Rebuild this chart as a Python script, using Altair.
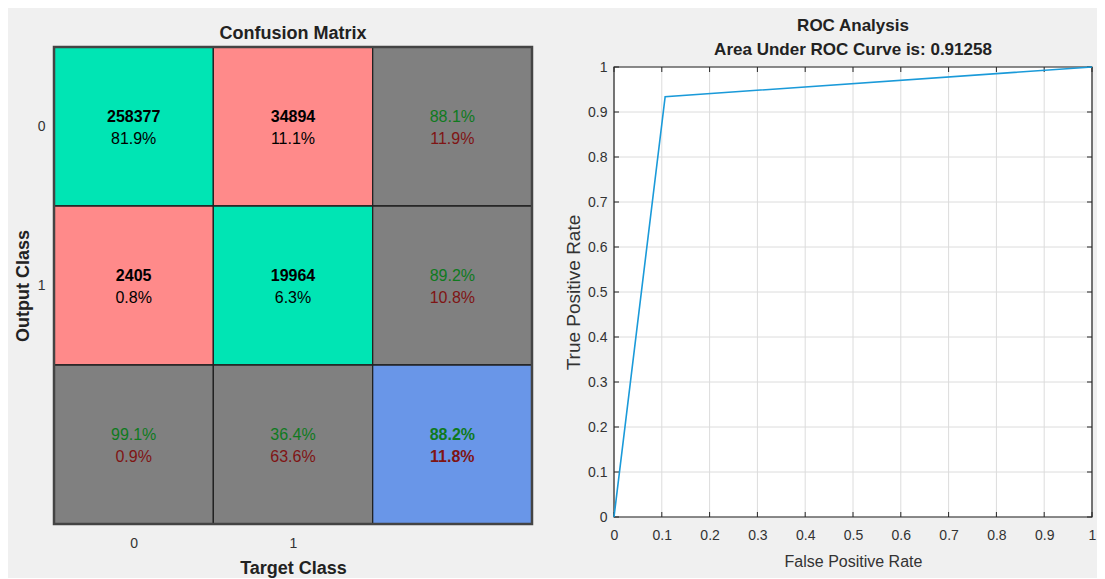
import altair as alt
import pandas as pd

# ---------------- data ----------------
classes = ["0", "1"]
counts = [[258377, 34894], [2405, 19964]]          # rows: output class, cols: target class
cell_pct = [[81.9, 11.1], [0.8, 6.3]]
row_correct = [88.1, 89.2]
row_wrong = [11.9, 10.8]
col_correct = [99.1, 36.4]
col_wrong = [0.9, 63.6]
overall_correct = 88.2
overall_wrong = 11.8

roc_fpr = [0.0, 0.107, 1.0]
roc_tpr = [0.0, 0.934, 1.0]
auc_value = 0.91258
tick_values = [round(i * 0.1, 1) for i in range(11)]

# ---------------- build tables ----------------
cells = []
for r in range(2):
    for c in range(2):
        cells.append(dict(c=c, r=r, kind="correct" if r == c else "wrong",
                          l1=str(counts[r][c]), l2=f"{cell_pct[r][c]}%",
                          t1="black", t2="black", bold1=True, bold2=False))
    cells.append(dict(c=2, r=r, kind="summary", l1=f"{row_correct[r]}%",
                      l2=f"{row_wrong[r]}%", t1="green", t2="red",
                      bold1=False, bold2=False))
for c in range(2):
    cells.append(dict(c=c, r=2, kind="summary", l1=f"{col_correct[c]}%",
                      l2=f"{col_wrong[c]}%", t1="green", t2="red",
                      bold1=False, bold2=False))
cells.append(dict(c=2, r=2, kind="total", l1=f"{overall_correct}%",
                  l2=f"{overall_wrong}%", t1="green", t2="red",
                  bold1=True, bold2=True))
cm = pd.DataFrame(cells)
cm["x0"] = cm["c"]
cm["x1"] = cm["c"] + 1
cm["y0"] = cm["r"]
cm["y1"] = cm["r"] + 1
cm["xc"] = cm["c"] + 0.5
cm["yc"] = cm["r"] + 0.5
n_grid = len(classes) + 1
frame = pd.DataFrame({"x0": [0], "x1": [n_grid], "y0": [0], "y1": [n_grid]})

FONT = "Liberation Sans"
W = 478
H = 477

xs = alt.Scale(domain=[0, n_grid], nice=False, zero=False)
ys = alt.Scale(domain=[0, n_grid], nice=False, zero=False, reverse=True)

fill_scale = alt.Scale(domain=["correct", "wrong", "summary", "total"],
                       range=["#00E5B4", "#FF8A8A", "#808080", "#6996E8"])
txt_scale = alt.Scale(domain=["black", "green", "red"],
                      range=["#000000", "#0F7A1E", "#7F1414"])

base = alt.Chart(cm)

rects = base.mark_rect(stroke="#222222", strokeWidth=1.3).encode(
    x=alt.X("x0:Q", scale=xs,
            axis=alt.Axis(values=[0.5, 1.5], labelExpr="datum.value < 1 ? '0' : '1'",
                          title="Target Class", domain=False, ticks=False, grid=False,
                          labelFont=FONT, labelFontSize=14, labelColor="#333333",
                          labelPadding=12, titleFont=FONT, titleFontSize=18,
                          titleFontWeight="bold", titleColor="#222222", titlePadding=9)),
    x2="x1:Q",
    y=alt.Y("y0:Q", scale=ys,
            axis=alt.Axis(values=[0.5, 1.5], labelExpr="datum.value < 1 ? '0' : '1'",
                          title="Output Class", domain=False, ticks=False, grid=False,
                          labelFont=FONT, labelFontSize=14, labelColor="#333333",
                          labelPadding=9, titleFont=FONT, titleFontSize=18,
                          titleFontWeight="bold", titleColor="#222222", titlePadding=5)),
    y2="y1:Q",
    fill=alt.Fill("kind:N", scale=fill_scale, legend=None),
)

outer = alt.Chart(frame).mark_rect(fill="transparent", stroke="#444444", strokeWidth=2.5).encode(
    x=alt.X("x0:Q", scale=xs), x2="x1:Q", y=alt.Y("y0:Q", scale=ys), y2="y1:Q"
)

def text_layer(field, colfield, boldfield, bold, dy):
    return base.transform_filter(
        f"datum.{boldfield} == {'true' if bold else 'false'}"
    ).mark_text(font=FONT, fontSize=16, fontWeight="bold" if bold else "normal", dy=dy).encode(
        x=alt.X("xc:Q", scale=xs),
        y=alt.Y("yc:Q", scale=ys),
        text=f"{field}:N",
        color=alt.Color(f"{colfield}:N", scale=txt_scale, legend=None),
    )

cm_chart = alt.layer(
    rects,
    outer,
    text_layer("l1", "t1", "bold1", True, -10),
    text_layer("l1", "t1", "bold1", False, -10),
    text_layer("l2", "t2", "bold2", True, 12),
    text_layer("l2", "t2", "bold2", False, 12),
).properties(
    width=W, height=H,
    view=alt.ViewBackground(stroke="transparent", fill="transparent"),
    title=alt.TitleParams("Confusion Matrix", font=FONT, fontSize=18, fontWeight="bold",
                          color="#222222", offset=3),
)

# ---------------- ROC ----------------
roc = pd.DataFrame({"fpr": roc_fpr, "tpr": roc_tpr})
ticks = pd.DataFrame({"v": tick_values})
box = pd.DataFrame({"x0": [0.0], "x1": [1.0], "y0": [0.0], "y1": [1.0]})
RW = 478
RH = 450
TOPGAP = 20
sx = alt.Scale(domain=[0, 1], nice=False)
sy = alt.Scale(domain=[0, 1], nice=False, range=[RH + TOPGAP, TOPGAP])
AX = "#262626"

bg = alt.Chart(box).mark_rect(fill="white").encode(
    x=alt.X("x0:Q", scale=sx,
            axis=alt.Axis(values=tick_values, format=".1~f", title="False Positive Rate",
                          grid=False, domain=False, ticks=False,
                          labelFont=FONT, labelFontSize=14, labelColor="#333333",
                          labelPadding=11, titleFont=FONT, titleFontSize=16,
                          titleFontWeight="normal", titleColor="#333333", titlePadding=11,
                          labelFlush=False)),
    x2="x1:Q",
    y=alt.Y("y0:Q", scale=sy,
            axis=alt.Axis(values=tick_values, format=".1~f", title="True Positive Rate",
                          grid=False, domain=False, ticks=False,
                          labelFont=FONT, labelFontSize=14, labelColor="#333333",
                          labelPadding=7, titleFont=FONT, titleFontSize=19,
                          titleFontWeight="normal", titleColor="#333333", titlePadding=4,
                          labelFlush=False)),
    y2="y1:Q",
)

tk = alt.Chart(ticks)
grid_x = tk.mark_rule(color="#dcdcdc", strokeWidth=1).encode(
    x=alt.X("v:Q", scale=sx), y=alt.Y("lo:Q", scale=sy), y2="hi:Q"
).transform_calculate(lo="0", hi="1")
grid_y = tk.mark_rule(color="#dcdcdc", strokeWidth=1).encode(
    y=alt.Y("v:Q", scale=sy), x=alt.X("lo:Q", scale=sx), x2="hi:Q"
).transform_calculate(lo="0", hi="1")
xt_bottom = tk.mark_rule(color=AX).encode(x=alt.X("v:Q", scale=sx), y=alt.value(RH + TOPGAP), y2=alt.value(RH + TOPGAP - 5))
xt_top = tk.mark_rule(color=AX).encode(x=alt.X("v:Q", scale=sx), y=alt.value(TOPGAP), y2=alt.value(TOPGAP + 5))
yt_left = tk.mark_rule(color=AX).encode(y=alt.Y("v:Q", scale=sy), x=alt.value(0), x2=alt.value(5))
yt_right = tk.mark_rule(color=AX).encode(y=alt.Y("v:Q", scale=sy), x=alt.value(RW), x2=alt.value(RW - 5))
box_frame = alt.Chart(box).mark_rect(fill="transparent", stroke=AX, strokeWidth=1.2).encode(
    x=alt.X("x0:Q", scale=sx), x2="x1:Q", y=alt.Y("y0:Q", scale=sy), y2="y1:Q"
)

line = alt.Chart(roc).mark_line(color="#1A9AD9", strokeWidth=1.6, clip=False).encode(
    x=alt.X("fpr:Q", scale=sx),
    y=alt.Y("tpr:Q", scale=sy),
)

roc_chart = alt.layer(bg, grid_x, grid_y, xt_bottom, xt_top, yt_left, yt_right, box_frame, line).properties(
    width=RW, height=RH + TOPGAP,
    view=alt.ViewBackground(stroke="transparent", fill="transparent"),
    title=alt.TitleParams(["ROC Analysis", f"Area Under ROC Curve is: {auc_value}"],
                          font=FONT, fontSize=17, fontWeight="bold", color="#222222",
                          lineHeight=24, offset=-12),
)

chart = alt.hconcat(cm_chart, roc_chart, spacing=30).properties(
    background="#f0f0f0", padding={"left": 5, "top": 8, "right": 0, "bottom": 0}
).resolve_scale(x="independent", y="independent")

chart.save("out.html", embed_options={"renderer": "svg", "actions": False})
